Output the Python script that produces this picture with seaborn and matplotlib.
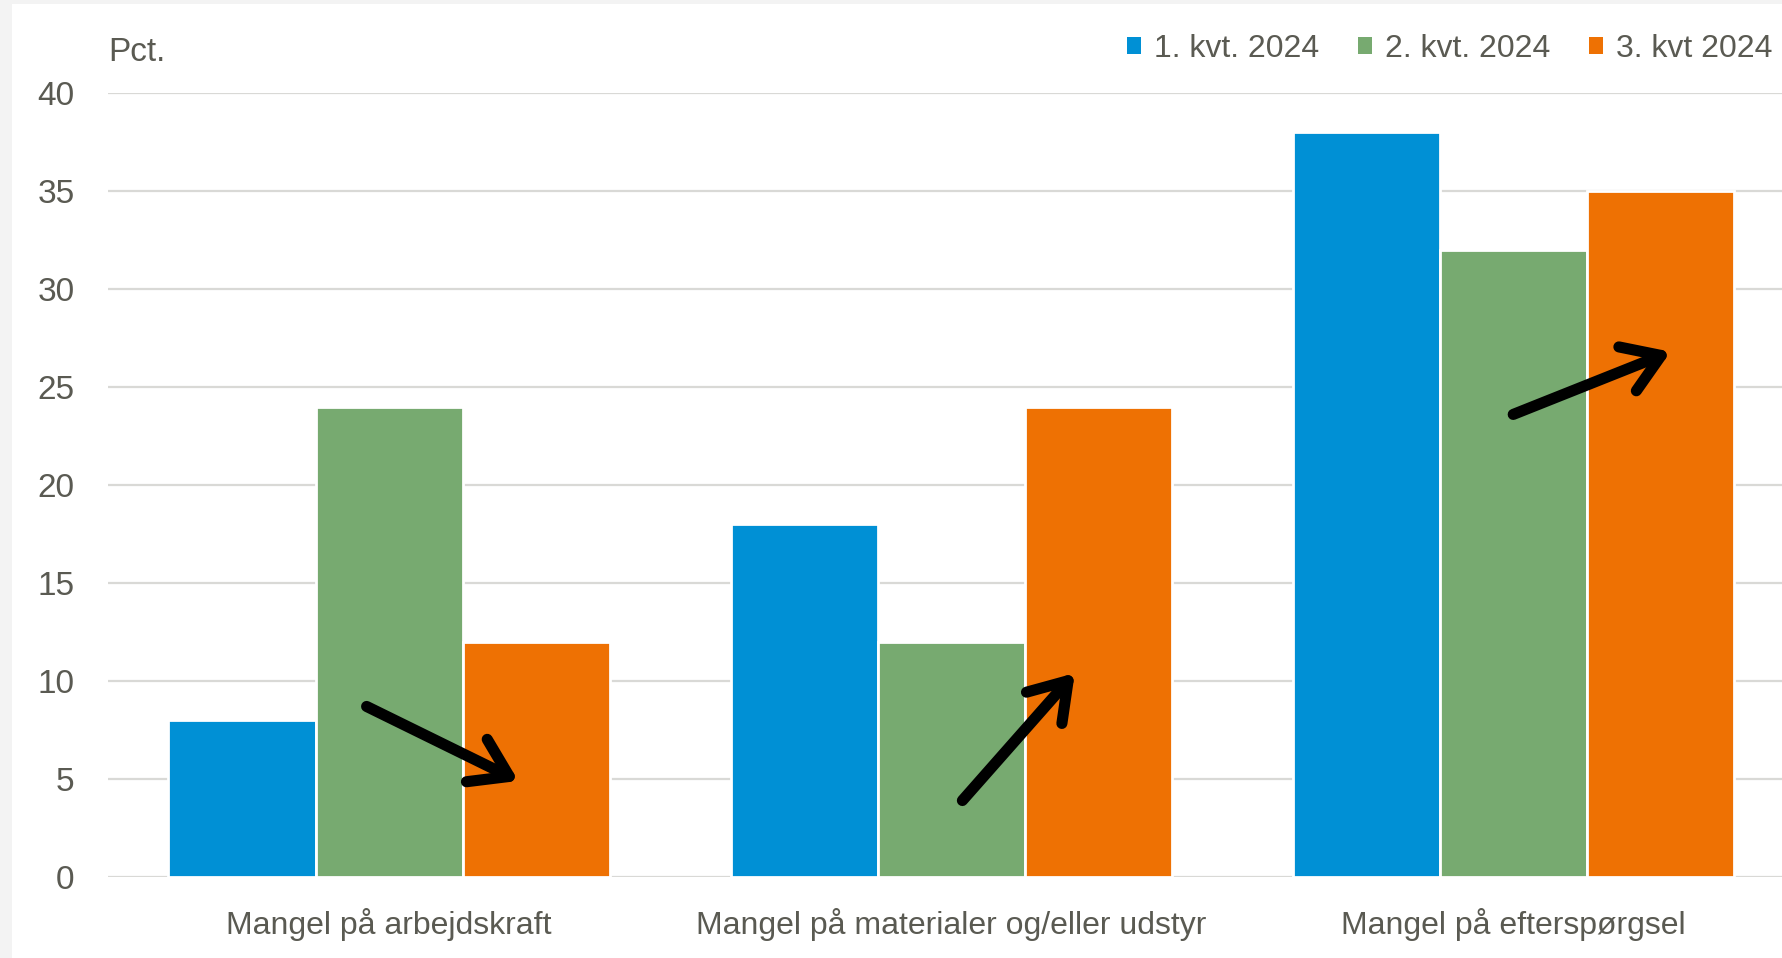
import matplotlib
matplotlib.use("Agg")
import matplotlib.pyplot as plt
import matplotlib.patches as mpatches
import pandas as pd
import seaborn as sns

categories = ["Mangel på arbejdskraft", "Mangel på materialer og/eller udstyr", "Mangel på efterspørgsel"]
quarters = ["1. kvt. 2024", "2. kvt. 2024", "3. kvt 2024"]
q1_values = [8, 18, 38]
q2_values = [24, 12, 32]
q3_values = [12, 24, 35]
colors = ["#0090D5", "#77AA70", "#EE7103"]
yticks = [0, 5, 10, 15, 20, 25, 30, 35, 40]
# (start, end) of the hand-drawn arrows, in data units
arrows = [((-0.04, 8.7), (0.23, 4.9)), ((1.02, 3.9), (1.22, 10.4)), ((2.0, 23.6), (2.28, 26.8))]

sns.set_theme(style="white")
plt.rcParams["font.family"] = ["Liberation Sans", "DejaVu Sans"]
TXT = "#5a5a52"

df = pd.DataFrame({
    "kategori": categories * 3,
    "kvartal": [q for q in quarters for _ in categories],
    "pct": q1_values + q2_values + q3_values,
})

fig = plt.figure(figsize=(17.83, 9.58), dpi=100, facecolor="#f3f3f3")
fig.patches.append(mpatches.Rectangle((0.0067, 0), 1, 0.996, transform=fig.transFigure,
                                      facecolor="white", edgecolor="none", zorder=-1))
ax = fig.add_axes([0.0606, 0.0846, 0.9394, 0.8183])
ax.set_facecolor("white")

sns.barplot(data=df, x="kategori", y="pct", hue="kvartal", order=categories, hue_order=quarters,
            palette=colors, width=0.785, saturation=1, edgecolor="white", linewidth=2,
            legend=False, ax=ax, zorder=3)

ax.set_ylim(0, 40)
ax.set_xlim(-0.5, 2.48)
ax.set_yticks(yticks)
ax.yaxis.grid(True, color="#d9d9d6", linewidth=1.6, zorder=0)
ax.set_axisbelow(True)
for s in ax.spines.values():
    s.set_visible(False)
ax.tick_params(axis="y", length=0, pad=24, labelsize=24, labelcolor=TXT)
ax.tick_params(axis="x", length=0, pad=22, labelsize=23, labelcolor=TXT)
ax.set_xlabel("")
ax.set_ylabel("")

for (x0, y0), (x1, y1) in arrows:
    ax.annotate("", xy=(x1, y1), xytext=(x0, y0),
                arrowprops=dict(arrowstyle="->,head_length=1.3,head_width=0.85", color="black",
                                lw=8, capstyle="round", joinstyle="round",
                                shrinkA=0, shrinkB=0, mutation_scale=20), zorder=5)

fig.text(0.0606, 0.9457, "Pct.", ha="left", va="center", fontsize=24, color=TXT)

handles = [mpatches.Patch(facecolor=c, edgecolor="none", label=q) for c, q in zip(colors, quarters)]
fig.legend(handles=handles, loc="center right", bbox_to_anchor=(0.994, 0.949), ncol=3,
           frameon=False, fontsize=23, handlelength=0.45, handleheight=0.45,
           handletextpad=0.4, columnspacing=1.2, borderpad=0, borderaxespad=0, labelcolor=TXT)

fig.savefig("out.png", dpi=100, facecolor=fig.get_facecolor())
